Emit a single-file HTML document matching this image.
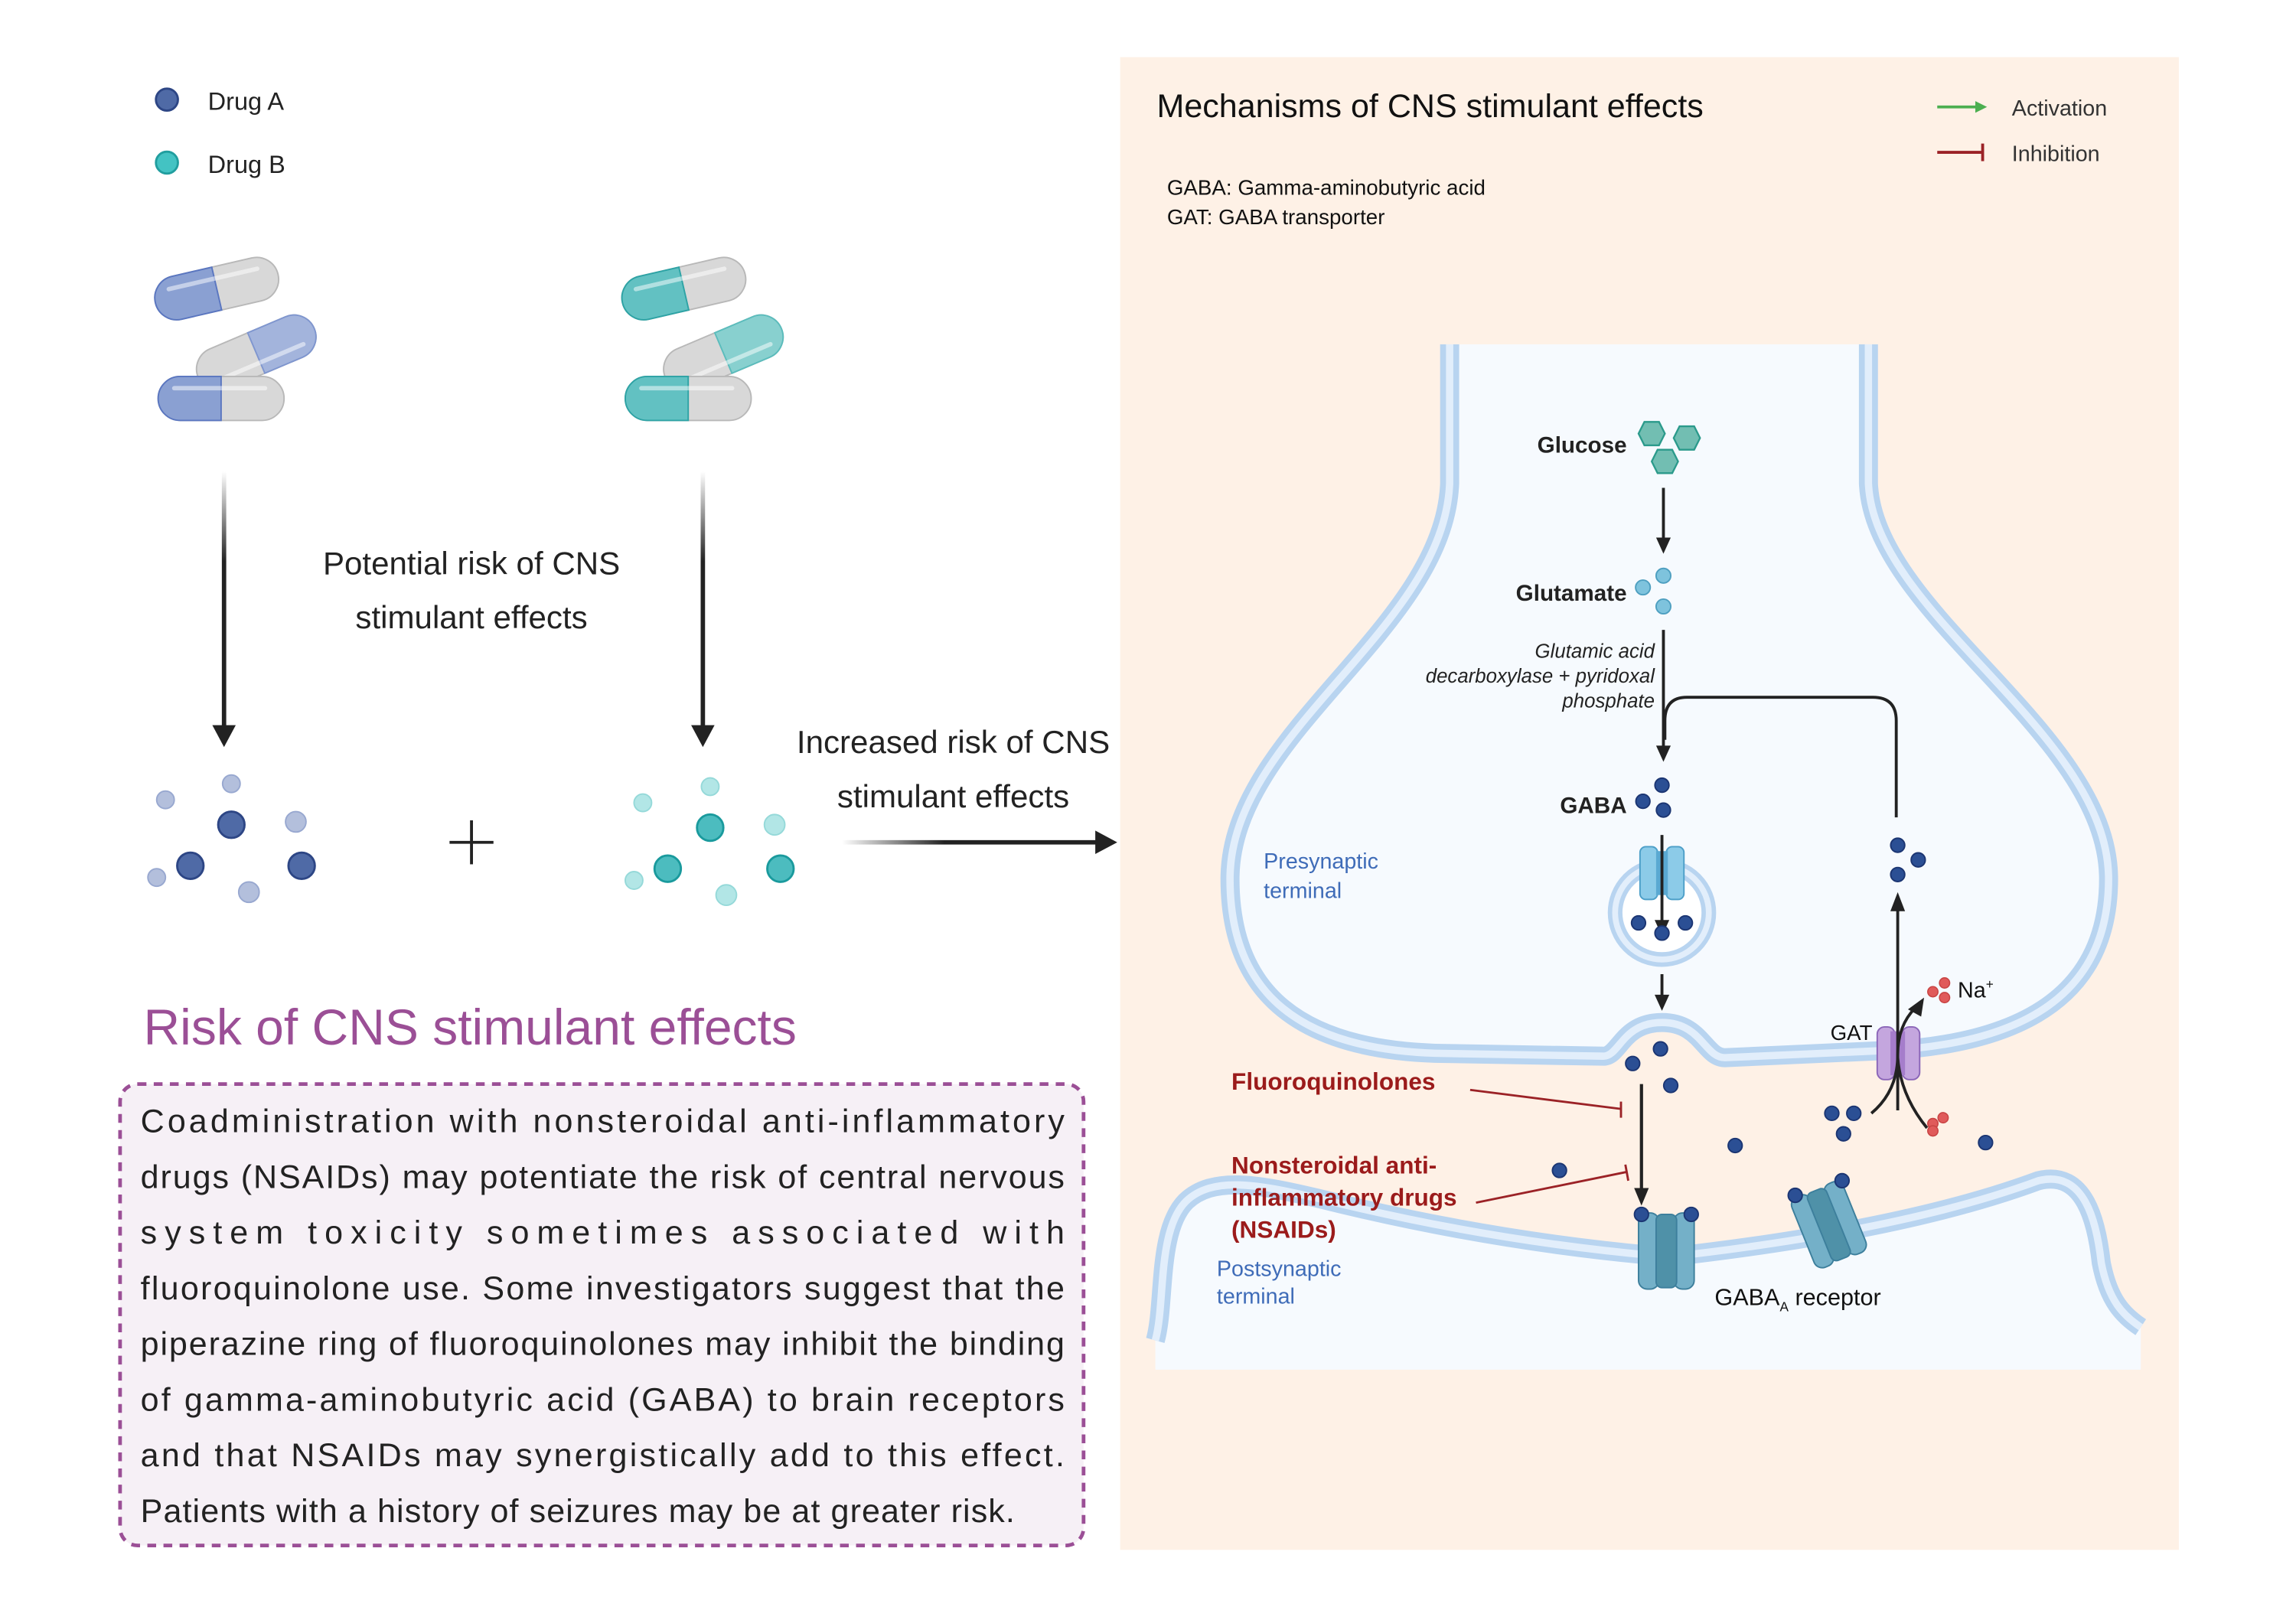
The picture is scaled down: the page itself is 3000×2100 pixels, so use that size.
<!DOCTYPE html>
<html><head><meta charset="utf-8"><style>
html,body{margin:0;padding:0;background:#fff;}
svg{display:block;}
text{font-family:"Liberation Sans",sans-serif;}
</style></head><body>
<svg width="3000" height="2100" viewBox="0 0 1568 1097" preserveAspectRatio="none" xmlns="http://www.w3.org/2000/svg">
<defs>
<linearGradient id="ga" x1="0" y1="0" x2="0" y2="1"><stop offset="0" stop-color="#222" stop-opacity="0"/><stop offset="0.35" stop-color="#222"/><stop offset="1" stop-color="#222"/></linearGradient>
<linearGradient id="gh" x1="0" y1="0" x2="1" y2="0"><stop offset="0" stop-color="#222" stop-opacity="0"/><stop offset="0.4" stop-color="#222"/><stop offset="1" stop-color="#222"/></linearGradient>
<g id="capA"><rect x="-43" y="-15" width="86" height="30" rx="15" fill="#d8d8d8" stroke="#b8b8b8" stroke-width="1"/><path d="M0,-15 H-28 A15,15 0 0 0 -28,15 H0 Z" fill="#8aa0d2" stroke="#5a76c0" stroke-width="1"/><line x1="-32" y1="-7" x2="30" y2="-7" stroke="#fff" stroke-opacity="0.5" stroke-width="3" stroke-linecap="round"/></g>
<g id="capA2"><rect x="-43" y="-15" width="86" height="30" rx="15" fill="#d8d8d8" stroke="#b8b8b8" stroke-width="1"/><path d="M0,-15 H28 A15,15 0 0 1 28,15 H0 Z" fill="#a3b4dc" stroke="#7f96cf" stroke-width="1"/><line x1="-30" y1="7" x2="32" y2="7" stroke="#fff" stroke-opacity="0.5" stroke-width="3" stroke-linecap="round"/></g>
<g id="capB"><rect x="-43" y="-15" width="86" height="30" rx="15" fill="#d8d8d8" stroke="#b8b8b8" stroke-width="1"/><path d="M0,-15 H-28 A15,15 0 0 0 -28,15 H0 Z" fill="#62c1c2" stroke="#2ea3a5" stroke-width="1"/><line x1="-32" y1="-7" x2="30" y2="-7" stroke="#fff" stroke-opacity="0.5" stroke-width="3" stroke-linecap="round"/></g>
<g id="capB2"><rect x="-43" y="-15" width="86" height="30" rx="15" fill="#d8d8d8" stroke="#b8b8b8" stroke-width="1"/><path d="M0,-15 H28 A15,15 0 0 1 28,15 H0 Z" fill="#88d0cf" stroke="#5bbcbc" stroke-width="1"/><line x1="-30" y1="7" x2="32" y2="7" stroke="#fff" stroke-opacity="0.5" stroke-width="3" stroke-linecap="round"/></g>
<g id="gd"><circle r="4.8" fill="#2b4f94" stroke="#1b3572" stroke-width="1"/></g>
</defs>

<!-- LEFT -->
<circle cx="114" cy="68" r="7.5" fill="#4f6aa6" stroke="#2d4685" stroke-width="1.5"/>
<text x="142" y="75" font-size="17" fill="#222">Drug A</text>
<circle cx="114" cy="111" r="7.5" fill="#43c3c3" stroke="#219e9f" stroke-width="1.5"/>
<text x="142" y="118" font-size="17" fill="#222">Drug B</text>

<use href="#capA" transform="translate(148,197) rotate(-13)"/>
<use href="#capA2" transform="translate(175,241) rotate(-23)"/>
<use href="#capA" transform="translate(151,272)"/>
<use href="#capB" transform="translate(467,197) rotate(-13)"/>
<use href="#capB2" transform="translate(494,241) rotate(-23)"/>
<use href="#capB" transform="translate(470,272)"/>

<rect x="151.5" y="322" width="3" height="175" fill="url(#ga)"/>
<polygon points="145,495 161,495 153,510" fill="#222"/>
<rect x="478.5" y="322" width="3" height="175" fill="url(#ga)"/>
<polygon points="472,495 488,495 480,510" fill="#222"/>

<text x="322" y="392" font-size="22" fill="#222" text-anchor="middle">Potential risk of CNS</text>
<text x="322" y="429" font-size="22" fill="#222" text-anchor="middle">stimulant effects</text>

<g fill="#b3bfdc" stroke="#98a8d0" stroke-width="1">
<circle cx="113" cy="546" r="6"/><circle cx="158" cy="535" r="6"/><circle cx="202" cy="561" r="7"/><circle cx="107" cy="599" r="6"/><circle cx="170" cy="609" r="7"/></g>
<g fill="#4f6aa6" stroke="#2d4685" stroke-width="1.5">
<circle cx="158" cy="563" r="9"/><circle cx="130" cy="591" r="9"/><circle cx="206" cy="591" r="9"/></g>
<line x1="307" y1="575" x2="337" y2="575" stroke="#222" stroke-width="2"/>
<line x1="322" y1="560" x2="322" y2="590" stroke="#222" stroke-width="2"/>
<g fill="#b2e6e6" stroke="#95d9d9" stroke-width="1">
<circle cx="439" cy="548" r="6"/><circle cx="485" cy="537" r="6"/><circle cx="529" cy="563" r="7"/><circle cx="433" cy="601" r="6"/><circle cx="496" cy="611" r="7"/></g>
<g fill="#4cbcbf" stroke="#1a9a9d" stroke-width="1.5">
<circle cx="485" cy="565" r="9"/><circle cx="456" cy="593" r="9"/><circle cx="533" cy="593" r="9"/></g>

<text x="651" y="514" font-size="22" fill="#222" text-anchor="middle">Increased risk of CNS</text>
<text x="651" y="551" font-size="22" fill="#222" text-anchor="middle">stimulant effects</text>
<rect x="575" y="573.5" width="175" height="3" fill="url(#gh)"/>
<polygon points="748,567 763,575 748,583" fill="#222"/>

<text x="98" y="713" font-size="34.5" fill="#9b4f96">Risk of CNS stimulant effects</text>
<rect x="82" y="740" width="658" height="315" rx="12" fill="#f6f0f6" stroke="#9b4f96" stroke-width="2.5" stroke-dasharray="6,5"/>
<g font-size="22.5" fill="#222">
<text x="96" y="773" textLength="631" lengthAdjust="spacing">Coadministration with nonsteroidal anti-inflammatory</text>
<text x="96" y="811" textLength="631" lengthAdjust="spacing">drugs (NSAIDs) may potentiate the risk of central nervous</text>
<text x="96" y="849" textLength="631" lengthAdjust="spacing">system toxicity sometimes associated with</text>
<text x="96" y="887" textLength="631" lengthAdjust="spacing">fluoroquinolone use. Some investigators suggest that the</text>
<text x="96" y="925" textLength="631" lengthAdjust="spacing">piperazine ring of fluoroquinolones may inhibit the binding</text>
<text x="96" y="963" textLength="631" lengthAdjust="spacing">of gamma-aminobutyric acid (GABA) to brain receptors</text>
<text x="96" y="1001" textLength="631" lengthAdjust="spacing">and that NSAIDs may synergistically add to this effect.</text>
<text x="96" y="1039" textLength="597" lengthAdjust="spacing">Patients with a history of seizures may be at greater risk.</text>
</g>

<!-- RIGHT PANEL -->
<rect x="765" y="39" width="723" height="1019" fill="#fef1e6"/>
<text x="790" y="80" font-size="22.5" fill="#111">Mechanisms of CNS stimulant effects</text>
<line x1="1323" y1="73" x2="1350" y2="73" stroke="#4caf50" stroke-width="2"/>
<polygon points="1349,69 1357,73 1349,77" fill="#4caf50"/>
<text x="1374" y="79" font-size="15" fill="#333">Activation</text>
<line x1="1323" y1="104" x2="1354" y2="104" stroke="#9b2226" stroke-width="2"/>
<line x1="1354" y1="98" x2="1354" y2="110" stroke="#9b2226" stroke-width="2"/>
<text x="1374" y="110" font-size="15" fill="#333">Inhibition</text>
<text x="797" y="133" font-size="14.5" fill="#111">GABA: Gamma-aminobutyric acid</text>
<text x="797" y="153" font-size="14.5" fill="#111">GAT: GABA transporter</text>

<!-- postsynaptic -->
<path d="M789,935 L789,915 C796,890 790,840 810,820 C828,803 858,808 900,818 Q1020,848 1140,858 Q1300,840 1392,806 C1424,798 1432,835 1435,862 C1440,888 1450,898 1462,906 L1462,935 Z" fill="#f6fafe"/>
<path d="M789,915 C796,890 790,840 810,820 C828,803 858,808 900,818 Q1020,848 1140,858 Q1300,840 1392,806 C1424,798 1432,835 1435,862 C1440,888 1450,898 1462,906" fill="none" stroke="#b8d4f0" stroke-width="13"/>
<path d="M789,915 C796,890 790,840 810,820 C828,803 858,808 900,818 Q1020,848 1140,858 Q1300,840 1392,806 C1424,798 1432,835 1435,862 C1440,888 1450,898 1462,906" fill="none" stroke="#e2eefb" stroke-width="5"/>

<!-- presynaptic -->
<path d="M990,235 L990,330 C986,430 840,500 840,600 C840,680 890,716 980,719 L1095,721 C1106,721 1108,698 1135,698 C1162,698 1164,722 1178,722 L1290,717 C1380,712 1440,680 1440,600 C1440,500 1280,420 1276,330 L1276,235 Z" fill="#f6fafe"/>
<path d="M990,235 L990,330 C986,430 840,500 840,600 C840,680 890,716 980,719 L1095,721 C1106,721 1108,698 1135,698 C1162,698 1164,722 1178,722 L1290,717 C1380,712 1440,680 1440,600 C1440,500 1280,420 1276,330 L1276,235" fill="none" stroke="#b8d4f0" stroke-width="13"/>
<path d="M990,235 L990,330 C986,430 840,500 840,600 C840,680 890,716 980,719 L1095,721 C1106,721 1108,698 1135,698 C1162,698 1164,722 1178,722 L1290,717 C1380,712 1440,680 1440,600 C1440,500 1280,420 1276,330 L1276,235" fill="none" stroke="#e2eefb" stroke-width="5"/>
<rect x="980" y="228" width="310" height="7" fill="#fef1e6"/>

<text x="863" y="593" font-size="15" fill="#3f6cb8">Presynaptic</text>
<text x="863" y="613" font-size="15" fill="#3f6cb8">terminal</text>
<text x="831" y="871" font-size="15" fill="#3f6cb8">Postsynaptic</text>
<text x="831" y="890" font-size="15" fill="#3f6cb8">terminal</text>

<!-- glucose -->
<text x="1111" y="309" font-size="15.5" font-weight="bold" fill="#222" text-anchor="end">Glucose</text>
<g fill="#72beb2" stroke="#2b9a8b" stroke-width="1.2">
<polygon points="1119,296 1123,288 1133,288 1137,296 1133,304 1123,304"/>
<polygon points="1143,299 1147,291 1157,291 1161,299 1157,307 1147,307"/>
<polygon points="1128,315 1132,307 1142,307 1146,315 1142,323 1132,323"/></g>
<line x1="1136" y1="333" x2="1136" y2="368" stroke="#222" stroke-width="2"/>
<polygon points="1131,367 1141,367 1136,378" fill="#222"/>
<text x="1111" y="410" font-size="15.5" font-weight="bold" fill="#222" text-anchor="end">Glutamate</text>
<g fill="#7ec3dd" stroke="#4e9fc0" stroke-width="1"><circle cx="1122" cy="401" r="5"/><circle cx="1136" cy="393" r="5"/><circle cx="1136" cy="414" r="5"/></g>
<g font-size="13.5" font-style="italic" fill="#222" text-anchor="end">
<text x="1130" y="449">Glutamic acid</text><text x="1130" y="466">decarboxylase + pyridoxal</text><text x="1130" y="483">phosphate</text></g>
<line x1="1136" y1="430" x2="1136" y2="510" stroke="#222" stroke-width="2"/>
<path d="M1295,558 L1295,492 Q1295,476 1279,476 L1152,476 Q1137,476 1137,492 L1137,505" fill="none" stroke="#222" stroke-width="2"/>
<polygon points="1131,509 1141,509 1136,520" fill="#222"/>
<text x="1111" y="555" font-size="15.5" font-weight="bold" fill="#222" text-anchor="end">GABA</text>
<use href="#gd" x="1135" y="536"/><use href="#gd" x="1122" y="547"/><use href="#gd" x="1136" y="553"/>

<!-- vesicle -->
<circle cx="1135" cy="623" r="32" fill="#fff" stroke="#b8d4f0" stroke-width="10"/>
<circle cx="1135" cy="623" r="32" fill="none" stroke="#e2eefb" stroke-width="4"/>
<rect x="1120" y="578" width="12" height="36" rx="4" fill="#8ccbe8" stroke="#4d9fc8" stroke-width="1"/>
<rect x="1138" y="578" width="12" height="36" rx="4" fill="#8ccbe8" stroke="#4d9fc8" stroke-width="1"/>
<rect x="1131" y="581" width="8" height="30" fill="#5aa9d2"/>
<line x1="1135" y1="570" x2="1135" y2="630" stroke="#222" stroke-width="2"/>
<polygon points="1130,628 1140,628 1135,639" fill="#222"/>
<use href="#gd" x="1119" y="630"/><use href="#gd" x="1135" y="637"/><use href="#gd" x="1151" y="630"/>
<line x1="1135" y1="665" x2="1135" y2="680" stroke="#222" stroke-width="2"/>
<polygon points="1130,679 1140,679 1135,690" fill="#222"/>

<!-- right recycle -->
<use href="#gd" x="1296" y="577"/><use href="#gd" x="1310" y="587"/><use href="#gd" x="1296" y="597"/>
<rect x="1282" y="701" width="12" height="36" rx="5" fill="#c4a6de" stroke="#8b66b8" stroke-width="1"/>
<rect x="1299" y="701" width="12" height="36" rx="5" fill="#c4a6de" stroke="#8b66b8" stroke-width="1"/>
<rect x="1291" y="704" width="10" height="30" fill="#a57dcb"/>
<line x1="1296" y1="758" x2="1296" y2="620" stroke="#222" stroke-width="2"/>
<polygon points="1291,622 1301,622 1296,609" fill="#222"/>
<path d="M1278,760 Q1296,745 1296,720 Q1296,700 1308,688" fill="none" stroke="#222" stroke-width="2"/>
<polygon points="1303,689 1314,681 1312,694" fill="#222"/>
<path d="M1296,722 Q1298,748 1316,770" fill="none" stroke="#222" stroke-width="2"/>
<text x="1250" y="710" font-size="14.5" fill="#111">GAT</text>
<g fill="#e05a5a" stroke="#c84444" stroke-width="0.8"><circle cx="1320" cy="677" r="3.5"/><circle cx="1328" cy="671" r="3.5"/><circle cx="1328" cy="681" r="3.5"/>
<circle cx="1320" cy="767" r="3.5"/><circle cx="1327" cy="763" r="3.5"/><circle cx="1320" cy="772" r="3.5"/></g>
<text x="1337" y="681" font-size="15" fill="#111">Na<tspan font-size="9" dy="-6">+</tspan></text>

<!-- cleft -->
<use href="#gd" x="1134" y="716"/><use href="#gd" x="1115" y="726"/><use href="#gd" x="1141" y="741"/>
<use href="#gd" x="1185" y="782"/><use href="#gd" x="1065" y="799"/><use href="#gd" x="1356" y="780"/>
<use href="#gd" x="1251" y="760"/><use href="#gd" x="1266" y="760"/><use href="#gd" x="1259" y="774"/>
<line x1="1121" y1="740" x2="1121" y2="812" stroke="#222" stroke-width="2.2"/>
<polygon points="1116,811 1126,811 1121,823" fill="#222"/>

<text x="841" y="744" font-size="16.5" font-weight="bold" fill="#9b1b1b">Fluoroquinolones</text>
<line x1="1004" y1="744" x2="1107" y2="757" stroke="#9b2226" stroke-width="1.5"/>
<line x1="1107" y1="752" x2="1107" y2="763" stroke="#9b2226" stroke-width="1.5"/>
<g font-size="16.5" font-weight="bold" fill="#9b1b1b"><text x="841" y="801">Nonsteroidal anti-</text><text x="841" y="823">inflammatory drugs</text><text x="841" y="845">(NSAIDs)</text></g>
<line x1="1008" y1="821" x2="1111" y2="800" stroke="#9b2226" stroke-width="1.5"/>
<line x1="1110" y1="795" x2="1112" y2="806" stroke="#9b2226" stroke-width="1.5"/>

<!-- receptors -->
<g transform="translate(1138,854)">
<rect x="-19" y="-26" width="14" height="52" rx="6" fill="#74b0c8" stroke="#3d7f9c" stroke-width="1"/>
<rect x="5" y="-26" width="14" height="52" rx="6" fill="#74b0c8" stroke="#3d7f9c" stroke-width="1"/>
<rect x="-7" y="-25" width="14" height="50" rx="4" fill="#4f91a8" stroke="#3d7f9c" stroke-width="1"/>
</g>
<use href="#gd" x="1121" y="829"/><use href="#gd" x="1155" y="829"/>
<g transform="translate(1249,836) rotate(-22)">
<rect x="-19" y="-26" width="14" height="52" rx="6" fill="#74b0c8" stroke="#3d7f9c" stroke-width="1"/>
<rect x="5" y="-26" width="14" height="52" rx="6" fill="#74b0c8" stroke="#3d7f9c" stroke-width="1"/>
<rect x="-7" y="-25" width="14" height="50" rx="4" fill="#4f91a8" stroke="#3d7f9c" stroke-width="1"/>
</g>
<use href="#gd" x="1226" y="816"/><use href="#gd" x="1258" y="806"/>
<text x="1171" y="891" font-size="16" fill="#111">GABA<tspan font-size="9" dy="4">A</tspan><tspan dy="-4"> receptor</tspan></text>
</svg>
</body></html>
